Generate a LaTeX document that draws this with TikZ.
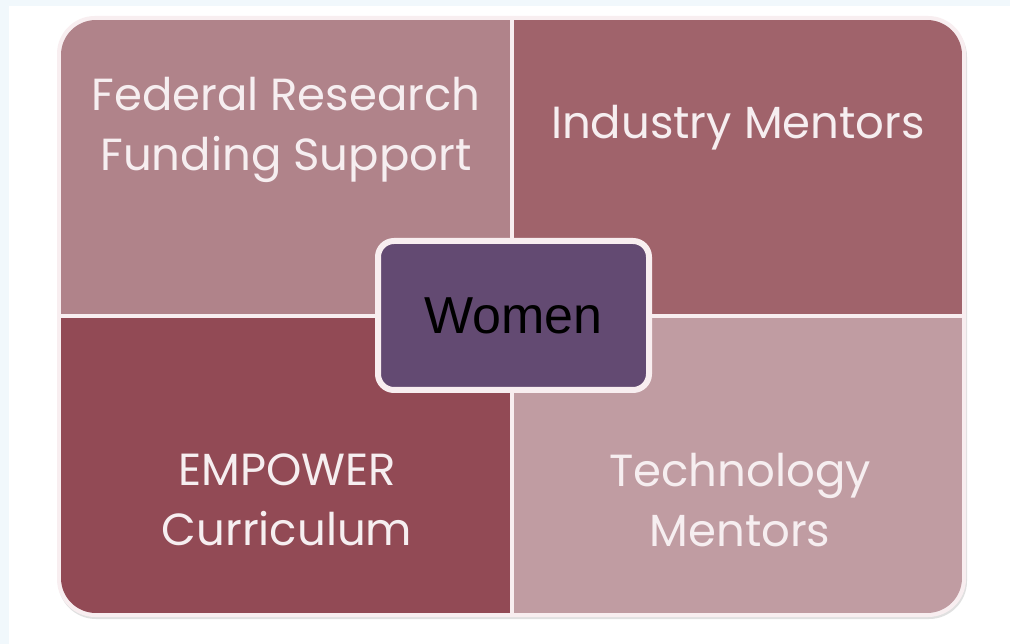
\documentclass[tikz,border=0pt]{standalone}
\usepackage{fontspec}
\setmainfont{Poppins}
\newfontfamily\womenfont{Liberation Sans}
\definecolor{bgblue}{HTML}{F1F8FC}
\definecolor{qtl}{HTML}{B0838A}
\definecolor{qtr}{HTML}{A0636B}
\definecolor{qbl}{HTML}{924A55}
\definecolor{qbr}{HTML}{C09CA2}
\definecolor{womenfill}{HTML}{634A72}
\definecolor{rimcol}{HTML}{F8EEF0}
\definecolor{txtcol}{HTML}{F6EEF0}
\tikzset{
  quadtext/.style={text=txtcol, align=center, font=\fontsize{45}{60}\selectfont},
  centrebox/.style={draw=rimcol, line width=6pt, fill=womenfill, rounded corners=16pt,
    minimum width=271pt, minimum height=149pt, text=black,
    font=\womenfont\fontsize{52}{60}\selectfont},
  divider/.style={draw=rimcol, line width=4pt}
}
\begin{document}
\begin{tikzpicture}[x=1pt,y=-1pt]
\useasboundingbox (0,0) rectangle (1010,644);
\fill[bgblue] (0,0) rectangle (1010,644);
\fill[white] (9,6) rectangle (1010,644);
% shadow
\fill[black!12, rounded corners=38pt] (58,19) rectangle (967,619);
\fill[rimcol, rounded corners=38pt] (57,16) rectangle (966,617);
\begin{scope}
  \clip[rounded corners=35pt] (61,20) rectangle (962,613);
  \fill[qtl] (61,20) rectangle (512,316);
  \fill[qtr] (512,20) rectangle (962,316);
  \fill[qbl] (61,316) rectangle (512,613);
  \fill[qbr] (512,316) rectangle (962,613);
\end{scope}
\coordinate (vt) at (512,20);
\coordinate (vb) at (512,613);
\coordinate (hl) at (61,316);
\coordinate (hr) at (962,316);
\draw[divider] (vt) -- (vb);
\draw[divider] (hl) -- (hr);
\node[quadtext] (fed) at (286,130) {Federal Research\\Funding Support};
\node[quadtext] (ind) at (738,128) {Industry Mentors};
\node[quadtext] (emp) at (287,500) {EMPOWER\\Curriculum};
\node[quadtext] (tec) at (740,500) {Technology\\Mentors};
\node[centrebox] (women) at (513.5,315.5) {Women};
\end{tikzpicture}
\end{document}
